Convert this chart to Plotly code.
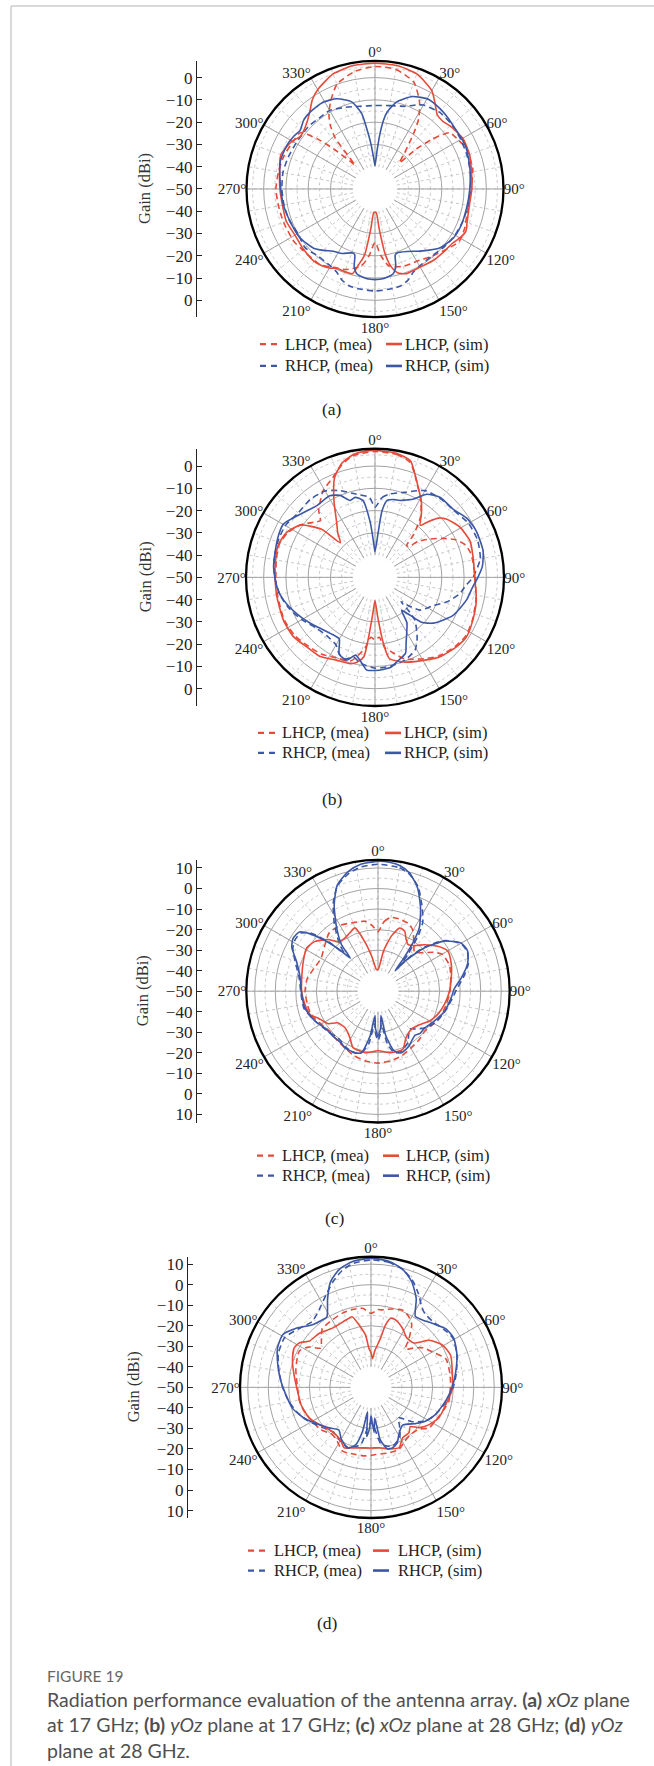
import plotly.graph_objects as go

W, H = 654, 1766
SERIF = "Liberation Serif"
SANS = "Lato"
RED = "#e64a38"
BLUE = "#3b57a6"

# ---------------- data (angle in degrees, gain in dBi) ----------------
# (a) xOz plane, 17 GHz
A_LS_TH = [0,10,20,30,35,40,45,50,60,70,80,90,100,110,115,120,125,130,140,150,160,165,168,171,174,177,180,183,186,189,192,195,200,205,210,215,220,230,240,250,260,270,280,290,300,305,310,315,320,325,330,340,350,360]
A_LS = [6.5,6.3,5,1,-3,-6.5,-7,-6,-4.5,-4.8,-6,-6.5,-7,-6,-5,-6,-7.5,-8,-8.5,-9.5,-9.5,-11,-14,-20,-32,-39.5,-39.5,-39.5,-32,-20,-15.5,-10.6,-10.5,-10.5,-9,-8,-7.5,-8,-8.5,-7.6,-7.8,-7.3,-6.5,-5,-7,-9,-8.5,-7,-4.5,-1,1.5,5,6.3,6.5]
A_LM_TH = [0,10,20,27,32,35,40,43,46,49,53,60,66,78,90,102,114,122,130,140,150,160,170,175,180,185,190,200,206,216,230,237,250,260,270,280,290,300,307,311,314,318,320,322,325,328,333,340,350,360]
A_LM = [5,4.5,1,-6,-13,-20,-30,-34,-24,-16,-8,-6.5,-5.2,-5.2,-6.7,-7.4,-6,-5.5,-8,-10.5,-12.5,-13,-15,-20,-26,-20,-15,-11.5,-10.6,-8,-7.5,-6.6,-6.3,-6,-5.5,-6,-6.5,-7.5,-8,-15.7,-24,-33,-36,-21,-15,-11,-6,0,3.5,5]
A_RS_TH = [0,3,5,7,9,14,22,31,39,45,51,60,66,78,91,102,113,122,132,144,153,161,163,165,168,175,180,185,192,195,197,199,207,214,220,226,237,249,260,272,286,296,303,308,314,320,329,337,345,350,352,355,358,360]
A_RS = [-39.5,-33,-25.7,-19,-15,-9.7,-5.2,-3.1,-3.6,-4.2,-4.8,-5,-5.1,-6.4,-7.5,-8,-8,-8.5,-10.6,-15.5,-18.5,-19.6,-19,-14,-11,-9.5,-9.3,-9.5,-11,-14,-19,-19.6,-17.5,-16.3,-14,-11.7,-9.8,-9.2,-8.3,-7.5,-5.7,-5.8,-6.5,-7.3,-5.5,-4.8,-4.6,-6,-9.5,-15.6,-22,-30,-37,-39.5]
A_RM_TH = [0,10,20,25,30,40,50,60,70,80,90,100,110,120,130,140,150,155,160,165,170,180,190,195,200,205,210,220,230,240,250,260,270,280,290,300,313,322,330,340,350,360]
A_RM = [-12.5,-12,-10.5,-8.5,-6.5,-5,-5,-5.5,-6,-6.5,-7,-7.5,-8,-8.5,-9.5,-10.5,-10,-9,-6.5,-5,-4.6,-4.2,-4.6,-5,-6.5,-9,-10,-10.5,-9,-10,-9,-8.5,-8.2,-8,-8.5,-9,-9,-9.5,-9.3,-11,-12.3,-12.5]

# (b) yOz plane, 17 GHz
B_LS_TH = [0,10,17,22,26,31,36,41,44,47,51,59,69,78,90,103,114,123,131,141,148,160,170,173,176,180,184,188,192,196,205,215,224,234,245,259,268,280,289,297,305,312,315,320,325,332,338,344,350,355,360]
B_LS = [7,6.5,4.6,-1.3,-5.5,-9.7,-14.5,-19,-15,-11,-8.5,-5.8,-4.3,-5,-5.2,-3.3,-2,-1,-2,-4,-6.3,-9.5,-13,-21,-32,-39.5,-32,-14,-11,-9.7,-9,-6.7,-6.3,-4.7,-4.6,-5.1,-5.2,-4.6,-4.2,-5.5,-9.1,-17.7,-28,-24,-20,-10.7,-1.6,3.5,6,6.8,7]
B_LM_TH = [0,10,17,22,31,37,42,45,48,50,55,60,65,70,75,80,90,103,114,123,131,141,148,160,168,172,176,180,184,188,196,205,215,224,234,245,259,268,280,289,297,305,312,316,320,329,337,344,350,360]
B_LM = [6.5,6,4,-1.5,-10,-16,-24,-30,-29,-25,-20,-15,-10,-7,-5.8,-5.5,-5,-3.5,-2.2,-1.5,-2.5,-4.5,-7,-11,-16,-18,-23,-22,-23,-18,-11,-10,-8,-7,-5.5,-5,-5.5,-5.5,-5,-4.5,-6,-9,-13,-14.6,-10.7,-4.7,-1.4,3,5.5,6.5]
B_RS_TH = [0,4,6,9,14,18,22,26,32,39,49,57,65,76,84,90,96,104,116,128,134,138,141,145,150,155,158,165,170,175,180,185,190,194,199,205,210,213,224,235,245,256,264,276,291,300,310,321,331,337,342,346,351,355,358,360]
B_RS = [-38.5,-30,-20,-15,-14,-13.7,-12.5,-11,-6,-3.7,-3.4,-1,0,0,-1.5,-3.8,-6,-7.7,-11,-16.6,-21,-28,-31,-25,-21.5,-17,-13.3,-11,-9,-8.5,-8.2,-8.2,-12,-14,-10.7,-12,-18,-18.2,-17,-14.3,-11.3,-7.7,-5.8,-4.2,-3,-2.4,-6,-8.5,-8.1,-10,-13.7,-13,-15,-25,-35,-38.5]
B_RM_TH = [0,5,10,20,30,40,50,60,70,80,90,95,101,109,116,126,130,133,135,137,145,151,160,170,180,190,195,200,205,210,220,230,240,250,260,270,280,290,300,310,320,330,338,347,356,360]
B_RM = [-18.5,-14,-12,-9.3,-5,-4,-3.5,-1.5,-1,-2,-6,-9,-11.3,-16,-21,-25,-30,-34,-28,-23.7,-17,-12.8,-10.5,-9.5,-9.2,-11,-13,-11,-12,-15,-16,-15,-12,-9,-6.5,-5,-4,-3.5,-3.5,-5,-4.5,-5.2,-8,-11.6,-14,-18.5]

# (c) xOz plane, 28 GHz
C_LS_TH = [0,4,8,14,19,24,28,33,40,45,53,60,70,80,90,101,111,120,129,139,149,157,168,180,192,204,211,222,232,237,246,251,260,270,280,292,301,308,316,321,328,334,340,345,350,356,360]
C_LS = [-39.5,-37,-30,-22,-17.5,-18,-21,-23,-21,-18,-13.6,-10.8,-12,-13.8,-15.2,-17,-18.8,-21,-24,-25.4,-23.5,-19.2,-19.4,-21,-19.4,-20,-23.5,-26,-25,-21,-18,-15,-13.8,-12.8,-12.3,-10.8,-9.4,-10.8,-15,-19,-19.5,-18.5,-17.2,-25,-33,-39.5,-39.5]
C_LM_TH = [0,5,10,18,25,30,37,43,48,55,60,70,80,90,100,110,120,130,140,150,160,170,180,190,200,210,220,230,240,250,260,270,280,290,300,310,320,330,340,350,355,360]
C_LM = [-21,-16,-13.5,-13.4,-14,-16,-21,-24,-22,-17,-14,-13,-14,-15,-16,-17,-18.5,-20,-19,-18,-16.5,-15.5,-15,-15.5,-16.5,-18,-19,-19.5,-18,-15.5,-15,-14.5,-15,-17,-18,-16,-13,-13,-14.5,-15.5,-18,-21]
C_RS_TH = [0,5,10,15,21,27,33,35.5,38,40,42,47,53,60,66,73,81,88,95,107,118,128,135,140,145,150,155,160,165,170,173,176,180,184,187,190,195,200,204,210,215,225,235,245,257,268,280,290,297,302,307,310,314,317,320,322,327,333,339,346,352,360]
C_RS = [13.2,13,12,9.5,3.8,-4.4,-13,-20,-30,-37,-30,-19,-9.5,-3.2,-2.2,-4.4,-9,-12.8,-14.2,-16.2,-19,-21,-21,-22,-21,-19.5,-18.5,-18,-20,-28,-38,-32,-28,-32,-38,-28,-19,-18,-18,-18,-19,-19,-18.6,-16,-13.5,-12.8,-11.5,-7.8,-2.9,-1.3,-2.1,-6.4,-15,-22,-29,-21,-13,-3,5.3,10,12.3,13.2]
C_RM_TH = [0,10,15,21,27,33,36,39,41,43,47,53,60,66,73,81,88,95,107,118,128,135,140,145,150,160,165,170,174,177,180,183,186,190,195,200,210,220,230,245,257,268,280,290,297,302,307,311,315,318,321,327,333,339,346,352,360]
C_RM = [11.8,11,9,4.5,-3,-10,-17,-27,-33,-27,-18,-9,-3.5,-2.5,-4,-8,-11.5,-13.5,-16,-18,-21,-24,-26,-24,-21,-18.5,-19,-24,-34,-29,-26,-29,-34,-24,-19,-18,-18.5,-20,-19,-16,-13,-12.5,-11,-7,-3.5,-2.5,-3,-7,-16,-25,-20,-11,-2,5,9,11,11.8]

# (d) yOz plane, 28 GHz
D_LS_TH = [0,3,6,11,13,16,20,28,36,44,51,59,68,79,92,98,114,123,130,135,140,148,155,165,172,180,191,198,204,209,217,225,234,244,256,267,279,288,297,302,307,316,327,340,345,350,354,357,360]
D_LS = [-33,-36,-32,-25.6,-19,-15,-15,-17.4,-20.3,-20,-13.6,-9.7,-8.2,-9.7,-10.5,-11.8,-13.8,-16.5,-19.5,-23,-21.2,-21,-17.6,-19,-20.3,-20.5,-20,-19,-17.8,-20,-21.3,-21,-19,-16.4,-14.9,-14.2,-12.1,-9.8,-8,-9,-12.5,-13.5,-15.6,-15,-14.4,-20,-24.3,-31,-33]
D_LM_TH = [0,5,8,15,22,28,33,38,42,47,53,60,69,80,86,100,113,125,131,140,148,156,165,176,185,193,204,212,219,230,240,250,260,270,284,297,303,308,313,320,330,339,346,354,360]
D_LM = [-14,-12,-11.9,-10.5,-9.4,-10.9,-13.6,-20,-25,-22,-18,-15.5,-11,-11,-11.2,-11.5,-14,-15.6,-19,-20,-19,-16.8,-17,-17.2,-16.5,-16.5,-16,-19,-20.3,-18,-17,-15.5,-14.5,-14.2,-12.3,-10.9,-14,-19,-17,-13,-12.1,-11.3,-11,-11.3,-14]
D_RS_TH = [0,8,15,21,27,32,36,44,52,59,69,81,90,100,113,122,129,140,148,155,160,165,170,173,176,178,180,182,185,188,191,195,201,210,217,226,237,245,255,265,274,284,293,301,308,317,324,328,334,339,345,352,360]
D_RS = [12.8,12,9.5,5.2,-1.5,-9.3,-9,-6.8,-3.7,-3.1,-5.2,-8.4,-10.5,-13,-16,-18.8,-22,-26,-24,-20,-18.8,-19,-24,-35,-28,-33,-36,-30,-26,-38,-28,-21,-18.4,-21,-24,-21.6,-18,-14.2,-10.5,-8.4,-6,-3.2,-0.6,0,-3.4,-8.3,-9.5,-9.5,-1.8,5,9.5,12,12.8]
D_RM_TH = [0,8,15,21,27,32,36,44,52,59,69,81,90,100,113,122,130,138,143,150,160,170,175,180,185,190,200,210,220,230,240,250,260,270,280,290,300,310,318,324,328,334,340,346,352,360]
D_RM = [12,11.5,9.5,6,1,-3.5,-5.5,-6,-4.5,-3.5,-5.2,-8,-10,-12.5,-16,-19,-24,-30,-27,-22,-19.5,-22,-30,-33,-30,-22,-18.5,-20,-21.5,-19.5,-16,-12.5,-9.5,-7,-4.5,-2,-1.5,-5,-7,-5.5,-3.7,0,4.5,8.5,11,12]

SERIES_NAMES = ["LHCP, (mea)", "RHCP, (mea)", "LHCP, (sim)", "RHCP, (sim)"]
PANEL_LABELS = ["(a)", "(b)", "(c)", "(d)"]
CURVES = [
    [(A_LM_TH, A_LM), (A_RM_TH, A_RM), (A_LS_TH, A_LS), (A_RS_TH, A_RS)],
    [(B_LM_TH, B_LM), (B_RM_TH, B_RM), (B_LS_TH, B_LS), (B_RS_TH, B_RS)],
    [(C_LM_TH, C_LM), (C_RM_TH, C_RM), (C_LS_TH, C_LS), (C_RS_TH, C_RS)],
    [(D_LM_TH, D_LM), (D_RM_TH, D_RM), (D_LS_TH, D_LS), (D_RS_TH, D_RS)],
]
ANG_TICKS = list(range(0, 360, 30))
ANG_MINOR = list(range(0, 360, 10))
R_MIN = -40  # inner (hole) ring of every polar plot; left scale reaches -50 at the centre

# ---------------- geometry (pixels) ----------------
GEOM = [
    dict(cx=375, cy=187.5, R=128.5, s=2.233, ax=197, tx=145, ly=408, leg_y=(343, 365), leg_x=(260, 283, 386, 403)),
    dict(cx=375, cy=577, R=129, s=2.233, ax=197, tx=145, ly=799, leg_y=(733, 753), leg_x=(258, 280, 385, 402)),
    dict(cx=378, cy=992, R=131.7, s=2.06, ax=197, tx=142, ly=1219, leg_y=(1157, 1177), leg_x=(257, 280, 383, 404)),
    dict(cx=371, cy=1389.3, R=131, s=2.06, ax=188, tx=133, ly=1626, leg_y=(1553, 1573), leg_x=(248, 272, 373, 396)),
]

def px(x):
    return x / W

def py(y):
    return 1 - y / H

def minus(v):
    return str(v).replace("-", "\u2212")

fig = go.Figure()
layout = dict(width=W, height=H, margin=dict(l=0, r=0, t=0, b=0),
              paper_bgcolor="white", plot_bgcolor="rgba(0,0,0,0)", showlegend=False,
              annotations=[], shapes=[])

styles = [dict(color=RED, dash="6px,4px"), dict(color=BLUE, dash="6px,4px"),
          dict(color=RED, dash="solid"), dict(color=BLUE, dash="solid")]

for i, g in enumerate(GEOM):
    cx, cy, R, s = g["cx"], g["cy"], g["R"], g["s"]
    outer = R / s - 50
    hole = (R_MIN + 50) * s / R
    dom = dict(x=[px(cx - R), px(cx + R)], y=[py(cy + R), py(cy - R)])
    n_minor, n_major = 2 * i + 1, 2 * i + 2
    kmin = "polar" if n_minor == 1 else f"polar{n_minor}"
    kmaj = f"polar{n_major}"
    major_r = [v for v in range(R_MIN, int(outer) + 1, 10)]
    minor_r = [v + 5 for v in range(R_MIN, int(outer) - 4, 10)]
    layout[kmin] = dict(
        domain=dom, bgcolor="white", hole=hole,
        radialaxis=dict(range=[R_MIN, outer], tickvals=minor_r, showticklabels=False, ticks="",
                        showline=False, gridcolor="#c9c9c9", griddash="dot", gridwidth=1),
        angularaxis=dict(rotation=90, direction="clockwise", tickvals=ANG_MINOR, showticklabels=False,
                         ticks="", showline=False, gridcolor="#c9c9c9", griddash="dot", gridwidth=1),
    )
    layout[kmaj] = dict(
        domain=dom, bgcolor="rgba(0,0,0,0)", hole=hole,
        radialaxis=dict(range=[R_MIN, outer], tickvals=major_r, showticklabels=False, ticks="",
                        showline=False, gridcolor="#a3a3a3", gridwidth=1),
        angularaxis=dict(rotation=90, direction="clockwise", tickvals=ANG_TICKS,
                         ticktext=[f"{t}\u00b0" for t in ANG_TICKS], ticks="",
                         tickfont=dict(family=SERIF, size=15, color="#222"),
                         showline=False, gridcolor="#a3a3a3", gridwidth=1),
    )
    # heavy outer rim of the polar frame
    layout["shapes"].append(dict(type="circle", xref="paper", yref="paper",
                                 x0=px(cx - R), x1=px(cx + R), y0=py(cy + R), y1=py(cy - R),
                                 line=dict(color="black", width=2.3), layer="above"))
    fig.add_trace(go.Scatterpolar(r=[], theta=[], subplot=kmin, showlegend=False, hoverinfo="skip"))
    for (th, gv), st, name in zip(CURVES[i], styles, SERIES_NAMES):
        fig.add_trace(go.Scatterpolar(
            r=gv, theta=th, subplot=kmaj, mode="lines", name=name,
            line=dict(color=st["color"], dash=st["dash"], width=1.6, shape="spline", smoothing=0.6),
            showlegend=False))

    # left "Gain (dBi)" diameter scale
    j = i + 1
    xk = "xaxis" if j == 1 else f"xaxis{j}"
    yk = "yaxis" if j == 1 else f"yaxis{j}"
    xr = "x" if j == 1 else f"x{j}"
    yr = "y" if j == 1 else f"y{j}"
    half = R / s
    lim = 60 if outer > 10 else 50
    tv = list(range(-lim, lim + 1, 10))
    tt = [minus(abs(v) - 50) for v in tv]
    layout[xk] = dict(domain=[px(g["ax"]), px(g["ax"] + 10)], range=[0, 1], visible=False, anchor=yr)
    layout[yk] = dict(domain=[py(cy + R), py(cy - R)], anchor=xr, range=[-half, half],
                      tickvals=tv, ticktext=tt, ticks="inside", ticklen=5, tickwidth=1.2,
                      tickcolor="#222", showline=True, linecolor="#222", linewidth=1.3,
                      showgrid=False, zeroline=False,
                      tickfont=dict(family=SERIF, size=17, color="#222"))
    fig.add_trace(go.Scatter(x=[], y=[], xaxis=xr, yaxis=yr, showlegend=False, hoverinfo="skip"))

    layout["annotations"].append(dict(
        text="Gain (dBi)", x=px(g["tx"]), y=py(cy), xref="paper", yref="paper", textangle=-90,
        showarrow=False, xanchor="center", yanchor="middle",
        font=dict(family=SERIF, size=16.5, color="#333")))
    layout["annotations"].append(dict(
        text=PANEL_LABELS[i], x=px(cx - 43), y=py(g["ly"]), xref="paper", yref="paper",
        showarrow=False, xanchor="center", yanchor="middle",
        font=dict(family=SERIF, size=17.5, color="#222")))

    # legend (two rows)
    d0, t1, s0, t2 = g["leg_x"]
    for row, cmap in enumerate([(RED, SERIES_NAMES[0], SERIES_NAMES[2]), (BLUE, SERIES_NAMES[1], SERIES_NAMES[3])]):
        col, lab_m, lab_s = cmap
        yy = py(g["leg_y"][row])
        layout["shapes"].append(dict(type="line", xref="paper", yref="paper", x0=px(d0), x1=px(d0 + 18),
                                     y0=yy, y1=yy, line=dict(color=col, width=2.2, dash="6px,5px")))
        layout["shapes"].append(dict(type="line", xref="paper", yref="paper", x0=px(s0), x1=px(s0 + 16),
                                     y0=yy, y1=yy, line=dict(color=col, width=2.6)))
        for tx, lab in ((t1, lab_m), (t2, lab_s)):
            layout["annotations"].append(dict(
                text=lab, x=px(tx), y=yy, xref="paper", yref="paper", showarrow=False,
                xanchor="left", yanchor="middle", font=dict(family=SERIF, size=16.5, color="#222")))

# page frame
layout["shapes"].append(dict(type="line", xref="paper", yref="paper", x0=px(11), x1=1.02, y0=py(4), y1=py(4),
                             line=dict(color="#cccccc", width=1.5)))
layout["shapes"].append(dict(type="line", xref="paper", yref="paper", x0=px(11), x1=px(11), y0=py(4), y1=-0.02,
                             line=dict(color="#cccccc", width=1.5)))

# caption
CAPTION = [
    "Radiation performance evaluation of the antenna array. <b>(a)</b> <i>xOz</i> plane",
    "at 17 GHz; <b>(b)</b> <i>yOz</i> plane at 17 GHz; <b>(c)</b> <i>xOz</i> plane at 28 GHz; <b>(d)</b> <i>yOz</i>",
    "plane at 28 GHz.",
]
layout["annotations"].append(dict(text="FIGURE 19", x=px(45), y=py(1679), xref="paper", yref="paper",
                                  showarrow=False, xanchor="left", yanchor="middle",
                                  font=dict(family=SANS, size=15.5, color="#666")))
for k, line in enumerate(CAPTION):
    layout["annotations"].append(dict(text=line, x=px(45), y=py(1702 + 25.5 * k), xref="paper", yref="paper",
                                      showarrow=False, xanchor="left", yanchor="middle",
                                      font=dict(family=SANS, size=19.5, color="#505050")))

fig.update_layout(**layout)
fig.write_html("out.html")
